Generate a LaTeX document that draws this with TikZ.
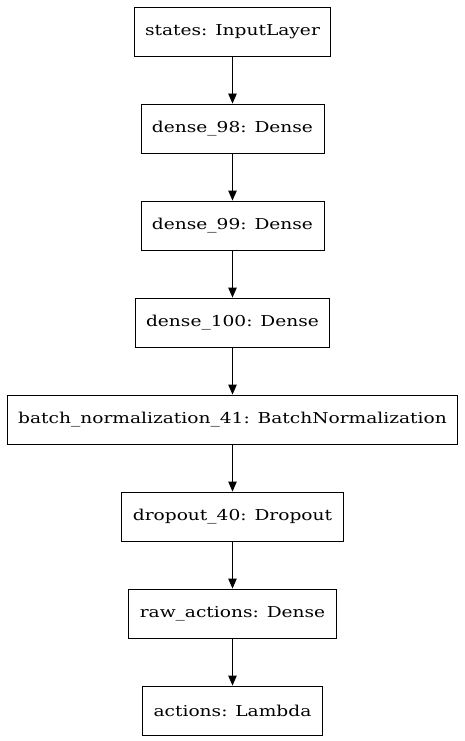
\documentclass[tikz,border=0pt]{standalone}
\usepackage{fontspec}
\setmainfont[FakeStretch=1.24]{DejaVu Serif}
\usetikzlibrary{arrows.meta}
\begin{document}
\begin{tikzpicture}[x=1pt,y=1pt,-{Triangle[length=10pt,width=8.5pt]},node distance=97pt,
        line width=0.9pt,layer/.style={rectangle,draw,-,minimum height=49pt,inner xsep=11pt,font=\fontsize{15}{17}\selectfont}]
      \useasboundingbox (0,0) rectangle (465,-741);

      \node[layer] (1) at (232.5,-31.5) {states: InputLayer};
      \node[layer] (2) [below of=1] {dense\_98: Dense};
      \node[layer] (3) [below of=2] {dense\_99: Dense};
      \node[layer] (4) [below of=3] {dense\_100: Dense};
      \node[layer] (5) [below of=4] {batch\_normalization\_41: BatchNormalization};
      \node[layer] (6) [below of=5] {dropout\_40: Dropout};
      \node[layer] (7) [below of=6] {raw\_actions: Dense};
      \node[layer] (8) [below of=7] {actions: Lambda};

      \path (1) edge (2)
        (2) edge (3)
        (3) edge (4)
        (4) edge (5)
        (5) edge (6)
        (6) edge (7)
        (7) edge (8);
    \end{tikzpicture}
\end{document}
